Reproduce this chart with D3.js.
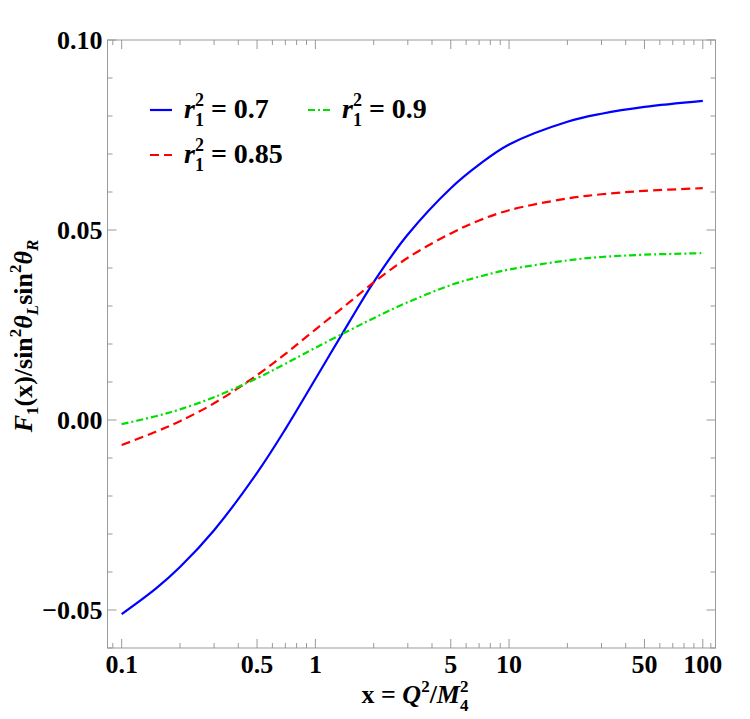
<!DOCTYPE html>
<html>
<head>
<meta charset="utf-8">
<script src="https://cdn.jsdelivr.net/npm/d3@7"></script>
<style>
  body { margin: 0; background: #fff; }
  text { font-family: "Liberation Serif", "Times New Roman", serif; font-weight: bold; }
</style>
</head>
<body>
<div id="container"></div>
<script>
// sample points
var xs =    [0.1, 0.15, 0.2, 0.3, 0.5, 0.7, 1, 1.5, 2, 3, 5, 7, 10, 20, 30, 50, 100];
var r07 =   [-0.0511, -0.0444, -0.0387, -0.0290, -0.0139, -0.0024, 0.0108, 0.0259, 0.0363, 0.0488, 0.0610, 0.0672, 0.0725, 0.0785, 0.0806, 0.0824, 0.0840];
var r085 =  [-0.0066, -0.0031, -0.0003, 0.0044, 0.0118, 0.0174, 0.0238, 0.0310, 0.0362, 0.0427, 0.0491, 0.0525, 0.0552, 0.0583, 0.0594, 0.0603, 0.0610];
var r09 =   [-0.0011, 0.0010, 0.0028, 0.0060, 0.0110, 0.0148, 0.0190, 0.0236, 0.0268, 0.0310, 0.0355, 0.0377, 0.0396, 0.0420, 0.0429, 0.0435, 0.0439];

var xMajor = [0.1, 0.5, 1, 5, 10, 50, 100];
var xMajorLabels = ["0.1", "0.5", "1", "5", "10", "50", "100"];
var xMinor = [0.09, 0.2, 0.3, 0.4, 0.6, 0.7, 0.8, 0.9, 2, 3, 4, 6, 7, 8, 9, 20, 30, 40, 60, 70, 80, 90, 110];
var yMajor = [-0.05, 0, 0.05, 0.10];
var yMajorLabels = ["\u22120.05", "0.00", "0.05", "0.10"];
var yMinor = [-0.06, -0.04, -0.03, -0.02, -0.01, 0.01, 0.02, 0.03, 0.04, 0.06, 0.07, 0.08, 0.09];

var width = 750,
	height = 719,
	padL = 107.5, padR = 715.5, padT = 40, padB = 648;

var xScale = d3.scaleLog()
	.domain([0.0845, 116.3])
	.range([padL, padR]);

var yScale = d3.scaleLinear()
	.domain([-0.06, 0.10])
	.range([padB, padT]);

var svg = d3.select("#container")
	.append("svg")
		.attr("width", width)
		.attr("height", height);

var frameColor = "#999";

// frame
svg.append("rect")
	.attr("x", padL).attr("y", padT)
	.attr("width", padR - padL).attr("height", padB - padT)
	.attr("fill", "none").attr("stroke", frameColor).attr("stroke-width", 1);

// x ticks bottom + top
function xTicks(vals, len) {
	svg.selectAll(null).data(vals).enter().append("line")
		.attr("x1", d => xScale(d)).attr("x2", d => xScale(d))
		.attr("y1", padB).attr("y2", padB - len)
		.attr("stroke", frameColor);
	svg.selectAll(null).data(vals).enter().append("line")
		.attr("x1", d => xScale(d)).attr("x2", d => xScale(d))
		.attr("y1", padT).attr("y2", padT + len)
		.attr("stroke", frameColor);
}
xTicks(xMajor, 9);
xTicks(xMinor, 5);

function yTicks(vals, len) {
	svg.selectAll(null).data(vals).enter().append("line")
		.attr("x1", padL).attr("x2", padL + len)
		.attr("y1", d => yScale(d)).attr("y2", d => yScale(d))
		.attr("stroke", frameColor);
	svg.selectAll(null).data(vals).enter().append("line")
		.attr("x1", padR).attr("x2", padR - len)
		.attr("y1", d => yScale(d)).attr("y2", d => yScale(d))
		.attr("stroke", frameColor);
}
yTicks(yMajor, 9);
yTicks(yMinor, 5);

// tick labels
svg.selectAll(null).data(xMajor).enter().append("text")
	.attr("x", d => xScale(d))
	.attr("y", padB + 25)
	.attr("text-anchor", "middle")
	.attr("font-size", 26)
	.text((d, i) => xMajorLabels[i]);

svg.selectAll(null).data(yMajor).enter().append("text")
	.attr("x", padL - 5)
	.attr("y", d => yScale(d) + 9)
	.attr("text-anchor", "end")
	.attr("font-size", 26)
	.text((d, i) => yMajorLabels[i]);

// curves
var line = d3.line()
	.x(d => xScale(d[0]))
	.y(d => yScale(d[1]))
	.curve(d3.curveCatmullRom.alpha(0.5));

var series = [
	{ vals: r07, color: "#0000ff", dash: null, label: "0.7" },
	{ vals: r085, color: "#ff0000", dash: "9,5", label: "0.85" },
	{ vals: r09, color: "#00e000", dash: "7,3,2,3", label: "0.9" }
];

series.forEach(function(s) {
	svg.append("path")
		.datum(xs.map((x, i) => [x, s.vals[i]]))
		.attr("d", line)
		.attr("fill", "none")
		.attr("stroke", s.color)
		.attr("stroke-width", 2.2)
		.attr("stroke-dasharray", s.dash);
});

// legend
var legendPos = [[150, 110], [150, 155], [308, 110]];
series.forEach(function(s, i) {
	var p = legendPos[i];
	svg.append("line")
		.attr("x1", p[0]).attr("x2", p[0] + 22)
		.attr("y1", p[1]).attr("y2", p[1])
		.attr("stroke", s.color).attr("stroke-width", 2.2)
		.attr("stroke-dasharray", s.dash);
	var t = svg.append("text")
		.attr("x", p[0] + 34).attr("y", p[1] + 8)
		.attr("font-size", 28);
	t.append("tspan").attr("font-style", "italic").text("r");
	t.append("tspan").attr("font-size", 18).attr("dy", -12).text("2");
	t.append("tspan").attr("font-size", 18).attr("dx", -9).attr("dy", 20).text("1");
	t.append("tspan").attr("dy", -8).text(" = " + s.label);
});

// axis labels
var xl = svg.append("text")
	.attr("x", 415).attr("y", 703)
	.attr("text-anchor", "middle")
	.attr("font-size", 26);
xl.append("tspan").text("x = ");
xl.append("tspan").attr("font-style", "italic").text("Q");
xl.append("tspan").attr("font-size", 17).attr("dy", -11).text("2");
xl.append("tspan").attr("dy", 11).text("/");
xl.append("tspan").attr("font-style", "italic").text("M");
xl.append("tspan").attr("font-size", 17).attr("dy", -11).text("2");
xl.append("tspan").attr("font-size", 17).attr("dx", -8.5).attr("dy", 19).text("4");

var yl = svg.append("text")
	.attr("transform", "translate(32,336) rotate(-90)")
	.attr("text-anchor", "middle")
	.attr("font-size", 26);
yl.append("tspan").attr("font-style", "italic").text("F");
yl.append("tspan").attr("font-size", 17).attr("dy", 6).text("1");
yl.append("tspan").attr("dy", -6).text("(x)/sin");
yl.append("tspan").attr("font-size", 17).attr("dy", -11).text("2");
yl.append("tspan").attr("font-style", "italic").attr("dy", 11).text("\u03b8");
yl.append("tspan").attr("font-style", "italic").attr("font-size", 17).attr("dy", 6).text("L");
yl.append("tspan").attr("dy", -6).text("sin");
yl.append("tspan").attr("font-size", 17).attr("dy", -11).text("2");
yl.append("tspan").attr("font-style", "italic").attr("dy", 11).text("\u03b8");
yl.append("tspan").attr("font-style", "italic").attr("font-size", 17).attr("dy", 6).text("R");
</script>
</body>
</html>
